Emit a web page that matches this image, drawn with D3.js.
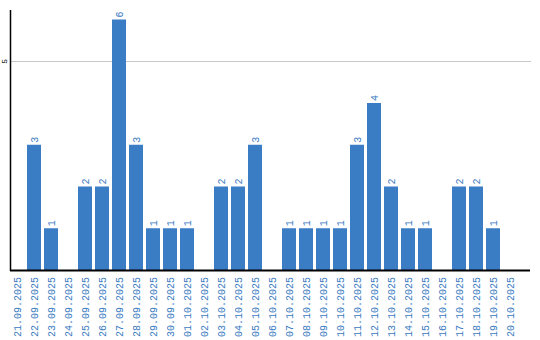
<!DOCTYPE html>
<html>
<head>
<meta charset="utf-8">
<script src="https://cdn.jsdelivr.net/npm/d3@7"></script>
<style>
  body { margin: 0; background: #fff; }
  text { font-family: "Liberation Mono", "DejaVu Sans Mono", monospace; }
</style>
</head>
<body>
<div id="chart"></div>
<script>
// Dates shown on the x axis
const dates = [
  '21.09.2025', '22.09.2025', '23.09.2025', '24.09.2025', '25.09.2025',
  '26.09.2025', '27.09.2025', '28.09.2025', '29.09.2025', '30.09.2025',
  '01.10.2025', '02.10.2025', '03.10.2025', '04.10.2025', '05.10.2025',
  '06.10.2025', '07.10.2025', '08.10.2025', '09.10.2025', '10.10.2025',
  '11.10.2025', '12.10.2025', '13.10.2025', '14.10.2025', '15.10.2025',
  '16.10.2025', '17.10.2025', '18.10.2025', '19.10.2025', '20.10.2025'
];
// Count per day
const counts = [0, 3, 1, 0, 2, 2, 6, 3, 1, 1, 1, 0, 2, 2, 3, 0, 1, 1, 1, 1, 3, 4, 2, 1, 1, 0, 2, 2, 1, 0];
const yTicks = [5];

const width = 540;
const height = 340;
const left = 10;
const baseline = 270;
const barColor = '#3b7dc4';
const textColor = '#3a7abf';

const svg = d3.select('#chart')
  .append('svg')
  .attr('width', width)
  .attr('height', height);

const xScale = d3.scaleBand()
  .domain(dates)
  .range([left, 517])
  .paddingInner(3 / 17)
  .paddingOuter(0);

const yScale = d3.scaleLinear()
  .domain([0, 6])
  .range([baseline, baseline - 6 * 41.75]);

// grid lines
svg.append('g')
  .selectAll('line')
  .data(yTicks)
  .enter()
  .append('line')
  .attr('x1', left)
  .attr('x2', 531)
  .attr('y1', d => Math.round(yScale(d)) + 0.5)
  .attr('y2', d => Math.round(yScale(d)) + 0.5)
  .attr('stroke', '#c8c8c8')
  .attr('stroke-width', 1);

// y tick labels (rotated)
svg.append('g')
  .selectAll('text')
  .data(yTicks)
  .enter()
  .append('text')
  .attr('transform', d => `translate(7,${yScale(d)}) rotate(-90)`)
  .attr('text-anchor', 'middle')
  .style('font-size', '8px')
  .attr('fill', '#000')
  .text(d => d);

const data = dates.map((d, i) => ({ date: d, count: counts[i] }));

// bars
svg.append('g')
  .selectAll('rect')
  .data(data.filter(d => d.count > 0))
  .enter()
  .append('rect')
  .attr('x', d => xScale(d.date))
  .attr('y', d => yScale(d.count))
  .attr('width', xScale.bandwidth())
  .attr('height', d => baseline - yScale(d.count))
  .attr('fill', barColor);

// value labels
svg.append('g')
  .selectAll('text')
  .data(data.filter(d => d.count > 0))
  .enter()
  .append('text')
  .attr('transform', d => `translate(${xScale(d.date) + xScale.bandwidth() / 2 + 4},${yScale(d.count) - 2}) rotate(-90)`)
  .attr('text-anchor', 'start')
  .style('font-size', '10px')
  .attr('fill', textColor)
  .text(d => d.count);

// axes lines
svg.append('line')
  .attr('x1', left + 0.5).attr('x2', left + 0.5)
  .attr('y1', 10).attr('y2', baseline + 1)
  .attr('stroke', '#000').attr('stroke-width', 1.5);

svg.append('line')
  .attr('x1', left).attr('x2', 530)
  .attr('y1', baseline + 0.5).attr('y2', baseline + 0.5)
  .attr('stroke', '#000').attr('stroke-width', 2);

// x labels
svg.append('g')
  .selectAll('text')
  .data(dates)
  .enter()
  .append('text')
  .attr('transform', d => `translate(${xScale(d) + xScale.bandwidth() / 2 + 4},${baseline + 7}) rotate(-90)`)
  .attr('text-anchor', 'end')
  .style('font-size', '10px')
  .attr('fill', textColor)
  .text(d => d);
</script>
</body>
</html>
